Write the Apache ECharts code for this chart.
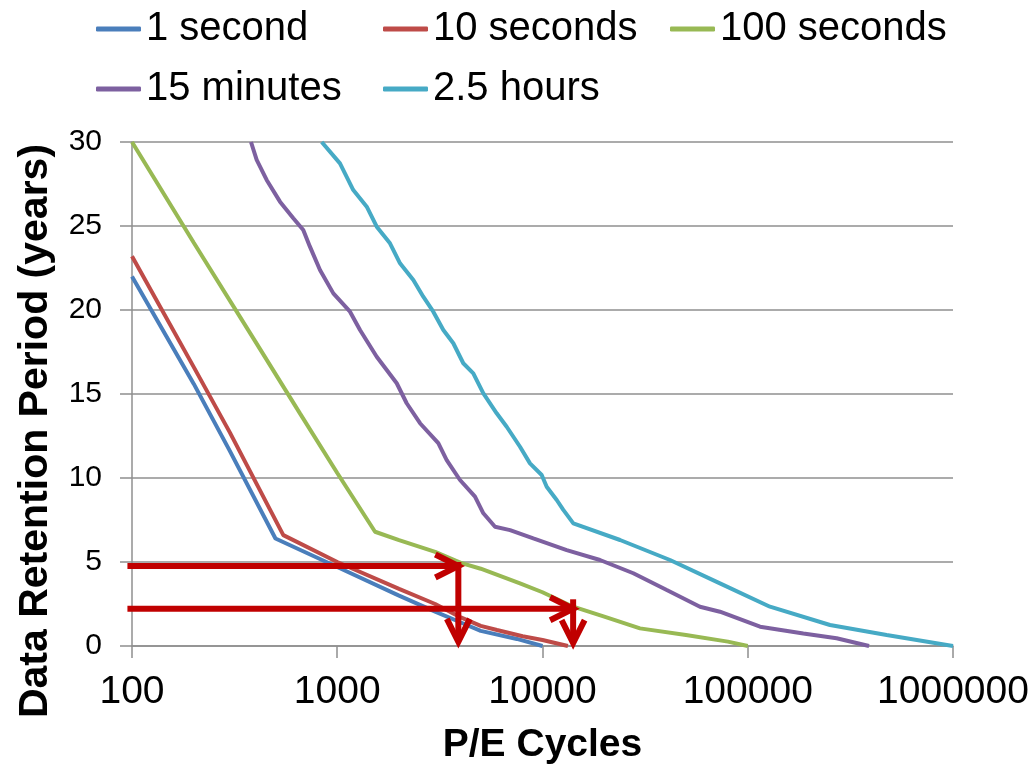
<!DOCTYPE html>
<html>
<head>
<meta charset="utf-8">
<script src="https://cdn.jsdelivr.net/npm/echarts@6/dist/echarts.min.js"></script>
<style>
html,body{margin:0;padding:0;background:#fff;}
#chart{width:1035px;height:768px;}
</style>
</head>
<body>
<div id="chart"></div>
<script>
// ---- Data ----
const seriesNames = ['1 second', '10 seconds', '100 seconds', '15 minutes', '2.5 hours'];
const seriesColors = ['#4A7EBB', '#BE4B48', '#98B954', '#7D60A0', '#46AAC5'];

const oneSecondPE    = [100, 200, 300, 500, 1000, 2000, 3000, 4000, 5000, 7500, 10000];
const oneSecondYears = [22.0, 15.6, 11.6, 6.4, 4.7, 3.0, 2.05, 1.4, 0.9, 0.42, 0];

const tenSecondsPE    = [100, 200, 300, 546, 1000, 2000, 3000, 4000, 5000, 6000, 8000, 10000, 13300];
const tenSecondsYears = [23.2, 16.6, 12.7, 6.6, 5.0, 3.4, 2.5, 1.7, 1.2, 0.95, 0.58, 0.36, 0];

const hundredSecondsPE    = [100, 200, 400, 658, 1000, 1528, 2000, 3000, 4000, 5000, 7769, 10000, 14100, 20000, 29850, 50000, 80000, 100000];
const hundredSecondsYears = [30.0, 24.0, 18.1, 13.85, 10.3, 6.8, 6.3, 5.6, 4.95, 4.6, 3.73, 3.2, 2.34, 1.75, 1.05, 0.65, 0.26, 0];

const fifteenMinutesPE    = [380, 405, 453, 526, 611, 683, 736, 824, 957, 1154, 1291, 1557, 1949, 2179, 2531, 3107, 3414, 3963, 4690, 5150, 5870, 6950, 9020, 13120, 19060, 27700, 40300, 58500, 73200, 114800, 186600, 271000, 390000];
const fifteenMinutesYears = [30.0, 28.93, 27.74, 26.45, 25.46, 24.76, 23.77, 22.38, 20.99, 19.9, 18.81, 17.22, 15.64, 14.45, 13.26, 12.07, 11.07, 9.88, 8.89, 7.9, 7.1, 6.9, 6.41, 5.71, 5.12, 4.33, 3.33, 2.34, 2.04, 1.15, 0.75, 0.46, 0];

const twoHalfHoursPE    = [840, 1031, 1197, 1392, 1557, 1807, 2022, 2348, 2625, 2937, 3287, 3677, 4112, 4601, 5150, 5980, 6692, 7769, 8690, 9910, 10480, 11730, 12630, 14130, 23870, 41800, 73200, 128300, 251600, 475000, 1000000];
const twoHalfHoursYears = [30.0, 28.73, 27.14, 26.15, 24.96, 23.97, 22.78, 21.79, 20.79, 19.9, 18.81, 18.02, 16.83, 16.23, 15.04, 13.85, 13.05, 11.86, 10.87, 10.18, 9.48, 8.69, 8.1, 7.3, 6.31, 5.12, 3.73, 2.34, 1.25, 0.65, 0];

const xTickLabels = ['100', '1000', '10000', '100000', '1000000'];
const yTickLabels = ['0', '5', '10', '15', '20', '25', '30'];

// arrows: [fromPE, fromYears, toPE, toYears]
const arrowFromPE    = [95, 3890, 95, 14100];
const arrowFromYears = [4.76, 5.0, 2.22, 2.78];
const arrowToPE      = [3890, 3890, 14100, 14100];
const arrowToYears   = [4.76, 0.25, 2.22, 0.17];

// ---- Build ----
const xs = [oneSecondPE, tenSecondsPE, hundredSecondsPE, fifteenMinutesPE, twoHalfHoursPE];
const ys = [oneSecondYears, tenSecondsYears, hundredSecondsYears, fifteenMinutesYears, twoHalfHoursYears];
const FONT = "'Liberation Sans', Arial, sans-serif";
const GRID_GRAY = '#8F8F8F';
const ARROW_RED = '#C00000';

const lineSeries = seriesNames.map((name, i) => ({
  name: name,
  type: 'line',
  data: xs[i].map((x, j) => [x, ys[i][j]]),
  symbol: 'none',
  smooth: false,
  lineStyle: { color: seriesColors[i], width: 4 },
  itemStyle: { color: seriesColors[i] },
  z: 3
}));

const arrowData = arrowFromPE.map((x, i) => [x, arrowFromYears[i], arrowToPE[i], arrowToYears[i]]);

const arrowSeries = {
  type: 'custom',
  name: 'arrows',
  coordinateSystem: 'cartesian2d',
  clip: false,
  z: 10,
  encode: { x: [0, 2], y: [1, 3] },
  data: arrowData,
  renderItem: function (params, api) {
    const a = api.coord([api.value(0), api.value(1)]);
    const b = api.coord([api.value(2), api.value(3)]);
    const dx = b[0] - a[0], dy = b[1] - a[1];
    const len = Math.sqrt(dx * dx + dy * dy) || 1;
    const ux = dx / len, uy = dy / len;
    const nx = -uy, ny = ux;
    const back = 23, side = 11.5;
    const p1 = [b[0] - ux * back + nx * side, b[1] - uy * back + ny * side];
    const p2 = [b[0] - ux * back - nx * side, b[1] - uy * back - ny * side];
    return {
      type: 'group',
      children: [
        { type: 'line', shape: { x1: a[0], y1: a[1], x2: b[0] - ux * 2, y2: b[1] - uy * 2 },
          style: { stroke: ARROW_RED, lineWidth: 6, lineCap: 'butt' } },
        { type: 'polyline', shape: { points: [p1, b, p2] },
          style: { stroke: ARROW_RED, lineWidth: 6, fill: null, lineJoin: 'miter', lineCap: 'butt' } }
      ]
    };
  }
};

const legendCommon = {
  left: 91,
  orient: 'horizontal',
  itemWidth: 45,
  itemHeight: 5,
  itemGap: 5,
  icon: 'roundRect',
  textStyle: { fontFamily: FONT, fontSize: 40, color: '#000', width: 232, lineHeight: 40 }
};

const option = {
  animation: false,
  backgroundColor: '#ffffff',
  textStyle: { fontFamily: FONT },
  legend: [
    Object.assign({}, legendCommon, { top: 4, data: seriesNames.slice(0, 3) }),
    Object.assign({}, legendCommon, { top: 64, data: seriesNames.slice(3) })
  ],
  grid: { left: 132, right: 82, top: 142, bottom: 122, containLabel: false, outerBoundsMode: 'none' },
  xAxis: {
    type: 'log',
    logBase: 10,
    min: 100,
    max: 1000000,
    name: 'P/E Cycles',
    nameLocation: 'middle',
    nameGap: 80,
    nameTextStyle: { fontFamily: FONT, fontSize: 39, fontWeight: 'bold', color: '#000' },
    axisLine: { show: true, lineStyle: { color: GRID_GRAY, width: 1.5 } },
    axisTick: { show: true, length: 12, lineStyle: { color: GRID_GRAY, width: 1.5 } },
    splitLine: { show: false },
    minorTick: { show: false },
    axisLabel: {
      fontFamily: FONT, fontSize: 39, color: '#000', margin: 27,
      formatter: function (v, idx) { return xTickLabels[idx] !== undefined ? xTickLabels[idx] : String(Math.round(v)); }
    }
  },
  yAxis: {
    type: 'value',
    min: 0,
    max: 30,
    interval: 5,
    axisLine: { show: true, lineStyle: { color: GRID_GRAY, width: 1.5 } },
    axisTick: { show: true, length: 12, lineStyle: { color: GRID_GRAY, width: 1.5 } },
    splitLine: { show: true, lineStyle: { color: GRID_GRAY, width: 1.5 } },
    axisLabel: {
      fontFamily: FONT, fontSize: 30, color: '#000', margin: 30,
      formatter: function (v, idx) { return yTickLabels[idx] !== undefined ? yTickLabels[idx] : String(v); }
    }
  },
  graphic: [{
    type: 'text',
    x: 36,
    y: 431,
    rotation: Math.PI / 2,
    style: {
      text: 'Data Retention Period (years)',
      fontFamily: FONT,
      fontSize: 41,
      fontWeight: 'bold',
      fill: '#000',
      align: 'center',
      verticalAlign: 'middle'
    }
  }],
  series: lineSeries.concat([arrowSeries])
};

const chart = echarts.init(document.getElementById('chart'), null, { renderer: 'canvas' });
chart.setOption(option);
</script>
</body>
</html>
